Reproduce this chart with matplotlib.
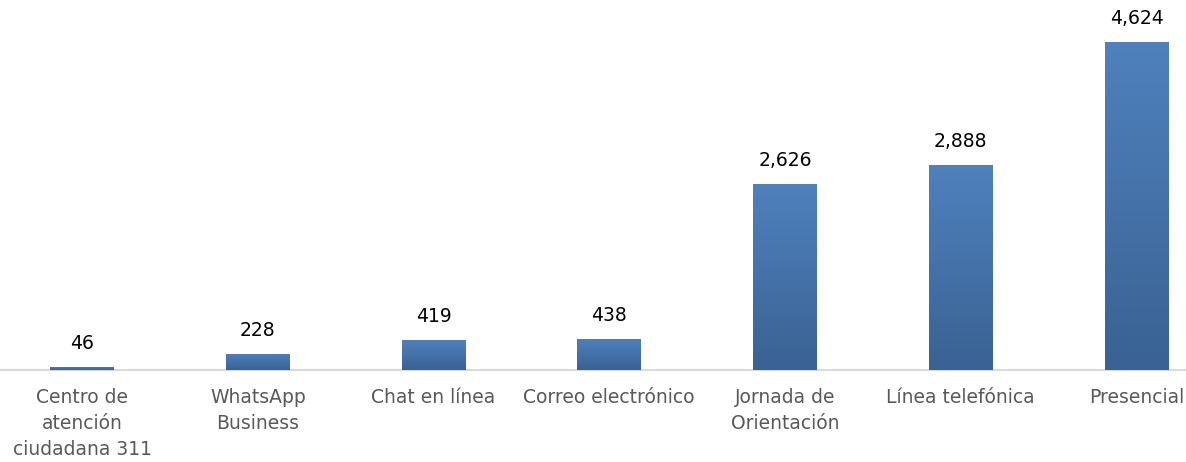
import numpy as np
import matplotlib.pyplot as plt
from matplotlib.colors import LinearSegmentedColormap

categories = [
    "Centro de\natención\nciudadana 311",
    "WhatsApp\nBusiness",
    "Chat en línea",
    "Correo electrónico",
    "Jornada de\nOrientación",
    "Línea telefónica",
    "Presencial",
]
values = [46, 228, 419, 438, 2626, 2888, 4624]

plt.rcParams["font.family"] = ["DejaVu Sans"]

fig = plt.figure(figsize=(11.86, 4.62), dpi=100)
ax = fig.add_axes([0, 0.1991, 1, 0.8009])

x = np.arange(len(categories))
bars = ax.bar(x, values, width=0.364, color="#4a7ab4", zorder=2)

# vertical gradient for each bar, light at the top, darker at the base
grad = LinearSegmentedColormap.from_list("bar", ["#3a6293", "#4f81bd"])
g = np.linspace(0, 1, 256).reshape(-1, 1)
for b in bars:
    x0, w, h = b.get_x(), b.get_width(), b.get_height()
    im = ax.imshow(g, cmap=grad, origin="lower", aspect="auto",
                   extent=(x0, x0 + w, 0, h), zorder=3)
    im.set_clip_path(b)

for xi, v in zip(x, values):
    ax.annotate(f"{v:,}", (xi, v), xytext=(0, 10), textcoords="offset points",
                ha="center", va="bottom", fontsize=13.5, color="black")

ax.set_xlim(-0.4666, 6.2817)
ax.set_ylim(0, 5216)
ax.set_xticks(x)
ax.set_xticklabels(categories, fontsize=13.5, color="#595959", linespacing=1.45)
ax.tick_params(axis="x", length=0, pad=13)
ax.set_yticks([])
for s in ["top", "right", "left"]:
    ax.spines[s].set_visible(False)
ax.spines["bottom"].set_color("#d9d9d9")
ax.spines["bottom"].set_linewidth(1.5)

fig.savefig("out.png", dpi=100)
